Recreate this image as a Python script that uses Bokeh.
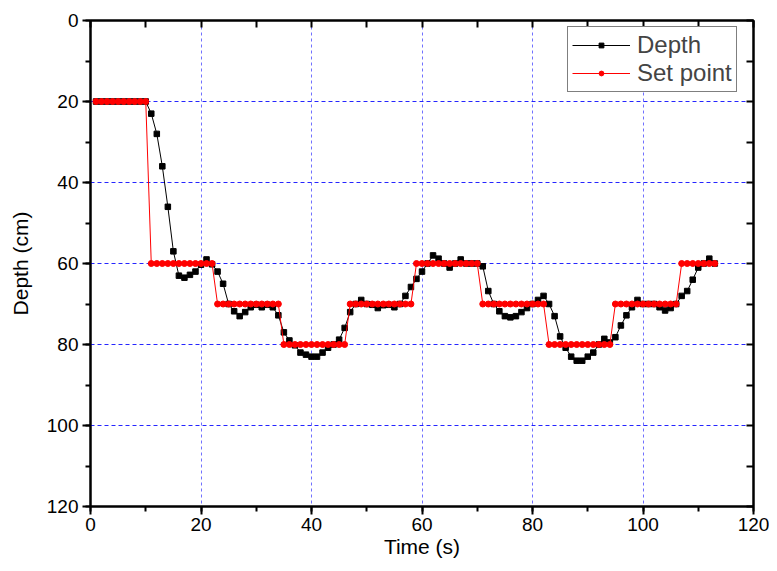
from bokeh.plotting import figure
from bokeh.models import Range1d, LinearAxis, SingleIntervalTicker, FixedTicker, Legend, LegendItem
from bokeh.embed import file_html
from bokeh.resources import INLINE

# ---- data ----
time_s = list(range(1, 114))

depth_cm = [
    20, 20, 20, 20, 20, 20, 20, 20, 20, 20,          # 1-10
    23, 28, 36, 46, 57, 63, 63.5, 62.8, 62, 60.3,    # 11-20
    59, 60.2, 62, 65, 70, 71.8, 73, 72, 70.8, 70.2,  # 21-30
    70.8, 70.2, 70.8, 72.8, 77, 79, 80.2, 82, 82.5, 83,  # 31-40
    83, 82, 80.8, 80, 78.8, 75.9, 72, 70, 69, 70,    # 41-50
    70.2, 71, 70.3, 70.2, 70.8, 70, 68, 65.8, 63.8, 62,  # 51-60
    60, 58, 58.8, 60, 61, 60, 59, 60, 60, 60,        # 61-70
    60.7, 66.8, 70, 71.8, 73, 73.3, 73, 72, 71, 70,  # 71-80
    69, 68, 70, 73, 78, 80.8, 83, 84, 84, 83,        # 81-90
    82, 80, 78.6, 79.5, 78.2, 75.3, 72.8, 70.8, 69, 70,  # 91-100
    70, 70, 70.8, 71.6, 71, 70, 68, 66.8, 64, 61,    # 101-110
    60, 58.8, 60,                                    # 111-113
]

set_point_cm = (
    [20] * 10 +   # 1-10
    [60] * 12 +   # 11-22
    [70] * 12 +   # 23-34
    [80] * 12 +   # 35-46
    [70] * 12 +   # 47-58
    [60] * 12 +   # 59-70
    [70] * 12 +   # 71-82
    [80] * 12 +   # 83-94
    [70] * 12 +   # 95-106
    [60] * 7      # 107-113
)

x_tick_step = 20
y_tick_step = 20
x_minor_positions = list(range(0, 121, 10))
y_minor_positions = list(range(0, 121, 10))

FONT = "Liberation Sans"

p = figure(
    width=769, height=563,
    x_range=Range1d(0, 120), y_range=Range1d(120, 0),
    output_backend="svg", toolbar_location=None,
    min_border_left=90, min_border_right=16,
    min_border_top=20, min_border_bottom=57,
    x_axis_label="Time (s)", y_axis_label="Depth (cm)",
)
p.background_fill_color = "white"
p.border_fill_color = "white"
p.outline_line_color = "black"
p.outline_line_width = 2

xt = SingleIntervalTicker(interval=x_tick_step, num_minor_ticks=2)
yt = SingleIntervalTicker(interval=y_tick_step, num_minor_ticks=2)

for ax in (p.xaxis[0], p.yaxis[0]):
    ax.axis_line_width = 2
    ax.major_tick_line_width = 2
    ax.minor_tick_line_width = 2
    ax.major_tick_out = 8
    ax.major_tick_in = 0
    ax.minor_tick_out = 5
    ax.minor_tick_in = 0
    ax.major_label_text_font = FONT
    ax.major_label_text_font_size = "19px"
    ax.major_label_text_color = "black"
    ax.axis_label_text_font = FONT
    ax.axis_label_text_font_size = "21px"
    ax.axis_label_text_font_style = "normal"
    ax.axis_label_text_color = "black"

p.xaxis[0].ticker = xt
p.yaxis[0].ticker = yt
p.xaxis[0].major_label_standoff = 3
p.xaxis[0].axis_label_standoff = 1
p.yaxis[0].major_label_standoff = 4
p.yaxis[0].axis_label_standoff = 12

# mirror axes (top / right) with inward ticks only, no labels
top_ax = LinearAxis(ticker=FixedTicker(ticks=[], minor_ticks=x_minor_positions))
right_ax = LinearAxis(ticker=FixedTicker(ticks=[], minor_ticks=y_minor_positions))
for ax in (top_ax, right_ax):
    ax.axis_line_width = 2
    ax.major_tick_line_width = 2
    ax.minor_tick_line_width = 2
    ax.major_tick_in = 0
    ax.major_tick_out = 0
    ax.minor_tick_in = 7
    ax.minor_tick_out = 0
    ax.major_label_standoff = 0
p.add_layout(top_ax, "above")
p.add_layout(right_ax, "right")

# grid
p.xgrid.ticker = xt
p.ygrid.ticker = yt
p.xgrid[0].grid_line_color = "#3333ff"
p.xgrid[0].grid_line_dash = "3 3"
p.xgrid[0].grid_line_width = 1
p.xgrid[0].grid_line_alpha = 0.7
p.ygrid[0].grid_line_color = "#0000ff"
p.ygrid[0].grid_line_dash = "4 3"
p.ygrid[0].grid_line_width = 1
p.ygrid[0].grid_line_alpha = 0.85

# series
l1 = p.line(time_s, depth_cm, line_color="black", line_width=1)
s1 = p.scatter(time_s, depth_cm, marker="square", size=5.5, fill_color="black", line_color="black")
l2 = p.line(time_s, set_point_cm, line_color="#ff0000", line_width=1)
s2 = p.scatter(time_s, set_point_cm, marker="circle", size=6, fill_color="#ff0000", line_color="#ff0000")

legend = Legend(items=[
    LegendItem(label="Depth", renderers=[l1, s1]),
    LegendItem(label="Set point", renderers=[l2, s2]),
])
legend.location = (477, 414)
legend.border_line_color = "black"
legend.border_line_width = 1
legend.background_fill_color = "white"
legend.background_fill_alpha = 1
legend.label_text_font = FONT
legend.label_text_font_size = "24px"
legend.glyph_width = 58
legend.glyph_height = 12
legend.label_height = 27
legend.spacing = 0
legend.padding = 4
legend.margin = 0
legend.label_standoff = 7
p.add_layout(legend, "center")

open("out.html", "w").write(file_html(p, INLINE))
